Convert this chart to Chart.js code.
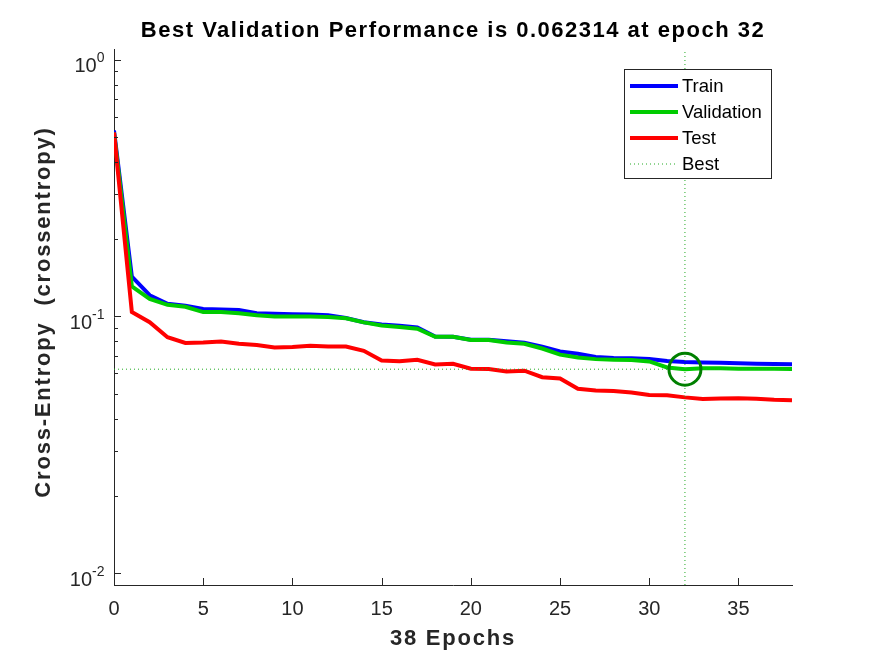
<!DOCTYPE html>
<html>
<head>
<meta charset="utf-8">
<script src="https://cdn.jsdelivr.net/npm/chart.js@4.4.1/dist/chart.umd.min.js"></script>
<style>
  body { margin: 0; background: #fff; }
  canvas { display: block; }
</style>
</head>
<body>
<canvas id="chart" width="875" height="656"></canvas>
<script>
'use strict'

let epochs = [0, 1, 2, 3, 4, 5, 6, 7, 8, 9, 10, 11, 12, 13, 14, 15, 16, 17, 18, 19,
    20, 21, 22, 23, 24, 25, 26, 27, 28, 29, 30, 31, 32, 33, 34, 35, 36, 37, 38];
let trainPerf = [0.53, 0.143, 0.121, 0.112, 0.110, 0.107, 0.1065, 0.106, 0.103, 0.1025,
    0.102, 0.1017, 0.101, 0.0986, 0.095, 0.093, 0.092, 0.0905, 0.0835, 0.0833,
    0.0812, 0.0812, 0.080, 0.079, 0.0762, 0.073, 0.0716, 0.0695, 0.0689, 0.0688,
    0.0683, 0.0670, 0.0664, 0.0662, 0.0660, 0.0657, 0.0655, 0.0653, 0.0652];
let valPerf = [0.52, 0.131, 0.117, 0.111, 0.109, 0.104, 0.104, 0.103, 0.101, 0.100,
    0.100, 0.100, 0.0994, 0.0984, 0.0948, 0.0922, 0.091, 0.0896, 0.0833, 0.0833,
    0.081, 0.081, 0.0792, 0.0783, 0.075, 0.071, 0.0692, 0.0682, 0.0678, 0.0676,
    0.0668, 0.0633, 0.062314, 0.0628, 0.0628, 0.0626, 0.0626, 0.0625, 0.0624];
let testPerf = [0.52, 0.104, 0.095, 0.083, 0.0788, 0.0792, 0.0799, 0.0783, 0.0774, 0.0757,
    0.076, 0.0769, 0.0763, 0.0764, 0.0735, 0.0674, 0.0669, 0.0678, 0.065, 0.0654,
    0.0626, 0.0624, 0.061, 0.0615, 0.058, 0.0573, 0.0523, 0.0515, 0.0513, 0.0506,
    0.0494, 0.0493, 0.0484, 0.0477, 0.0479, 0.048, 0.0478, 0.0474, 0.0472];
let bestEpoch = 32;
let bestPerf = 0.062314;
let xTicks = [0, 5, 10, 15, 20, 25, 30, 35];
let yTicks = [0.01, 0.1, 1];
let yTickExp = ['-2', '-1', '0'];
let xMin = 0;
let xMax = 38;
let yMin = 0.009;
let yMax = 1.1;

let titleText = 'Best Validation Performance is 0.062314 at epoch 32';
let xTitle = '38 Epochs';
let yTitle = 'Cross-Entropy  (crossentropy)';

let font = "'Liberation Sans', Arial, sans-serif";
let axisColor = '#262626';

function toPoints(xs, ys) {
    let pts = [];
    for (let i = 0; i < xs.length; i++) {
        pts.push({ x: xs[i], y: ys[i] });
    }
    return pts;
}

function lineSet(label, values, color, order) {
    return {
        label: label,
        data: toPoints(epochs, values),
        borderColor: color,
        backgroundColor: color,
        borderWidth: 4,
        pointRadius: 0,
        tension: 0,
        order: order
    };
}

// ticks, tick labels, titles and legend drawn on top of the library output
const decorations = {
    id: 'decorations',
    afterDraw(chart) {
        let ctx = chart.ctx;
        let sx = chart.scales.x;
        let sy = chart.scales.y;
        let area = chart.chartArea;
        ctx.save();

        // inward ticks
        ctx.strokeStyle = axisColor;
        ctx.lineWidth = 1;
        ctx.beginPath();
        xTicks.forEach(v => {
            let px = Math.round(sx.getPixelForValue(v)) + 0.5;
            ctx.moveTo(px, area.bottom);
            ctx.lineTo(px, area.bottom - 7);
        });
        for (let d = -3; d <= 0; d++) {
            for (let k = 1; k <= 9; k++) {
                let v = k * Math.pow(10, d);
                if (v <= yMin || v >= yMax) continue;
                let py = Math.round(sy.getPixelForValue(v)) + 0.5;
                ctx.moveTo(area.left, py);
                ctx.lineTo(area.left + (k === 1 ? 7 : 4), py);
            }
        }
        ctx.stroke();

        // y tick labels 10^n
        ctx.fillStyle = axisColor;
        ctx.textAlign = 'right';
        ctx.textBaseline = 'alphabetic';
        yTicks.forEach((v, i) => {
            let py = sy.getPixelForValue(v);
            let right = area.left - 9.5;
            ctx.font = '14px ' + font;
            let ew = ctx.measureText(yTickExp[i]).width;
            ctx.fillText(yTickExp[i], right, py + 2.5);
            ctx.font = '20px ' + font;
            ctx.fillText('10', right - ew, py + 12.5);
        });

        // titles
        ctx.textAlign = 'center';
        ctx.textBaseline = 'middle';
        ctx.letterSpacing = '1.5px';
        ctx.fillStyle = '#000';
        ctx.font = 'bold 22px ' + font;
        ctx.fillText(titleText, (area.left + area.right) / 2, 31);
        ctx.letterSpacing = '1.8px';
        ctx.fillStyle = axisColor;
        ctx.fillText(xTitle, (area.left + area.right) / 2, 639);
        ctx.save();
        ctx.translate(44, (area.top + area.bottom) / 2 - 5);
        ctx.rotate(-Math.PI / 2);
        ctx.fillText(yTitle, 0, 0);
        ctx.restore();
        ctx.letterSpacing = '0px';

        // legend box
        let bx = area.right - 168;
        let by = area.top + 20;
        ctx.fillStyle = '#fff';
        ctx.fillRect(bx, by, 147, 109);
        ctx.strokeStyle = axisColor;
        ctx.lineWidth = 1;
        ctx.strokeRect(bx + 0.5, by + 0.5, 147, 109);
        let rows = chart.data.datasets.filter(ds => ds.inLegend);
        ctx.font = '18.5px ' + font;
        ctx.textAlign = 'left';
        ctx.textBaseline = 'middle';
        rows.forEach((ds, i) => {
            let ry = by + 16.5 + i * 26;
            ctx.strokeStyle = ds.borderColor;
            ctx.lineWidth = ds.borderWidth;
            ctx.setLineDash(ds.borderDash || []);
            ctx.beginPath();
            ctx.moveTo(bx + 6, ry + 0.5);
            ctx.lineTo(bx + 54, ry + 0.5);
            ctx.stroke();
            ctx.setLineDash([]);
            ctx.fillStyle = '#000';
            ctx.fillText(ds.label, bx + 58, ry + 1);
        });
        ctx.restore();
    }
};

let train = lineSet('Train', trainPerf, '#0000ff', 3);
let validation = lineSet('Validation', valPerf, '#00cc00', 2);
let test = lineSet('Test', testPerf, '#ff0000', 1);
train.inLegend = true;
validation.inLegend = true;
test.inLegend = true;

let bestV = {
    label: 'Best',
    data: [{ x: bestEpoch, y: yMin }, { x: bestEpoch, y: yMax }],
    borderColor: '#22aa22',
    borderWidth: 1,
    borderDash: [1, 3],
    pointRadius: 0,
    order: 0,
    inLegend: true
};
let bestH = {
    label: 'BestH',
    data: [{ x: xMin, y: bestPerf }, { x: xMax, y: bestPerf }],
    borderColor: '#22aa22',
    borderWidth: 1,
    borderDash: [1, 3],
    pointRadius: 0,
    order: 0
};
let bestCircle = {
    label: 'BestCircle',
    data: [{ x: bestEpoch, y: bestPerf }],
    showLine: false,
    pointRadius: 16,
    pointBorderWidth: 3,
    pointBorderColor: '#008000',
    pointBackgroundColor: 'rgba(0,0,0,0)',
    order: -1
};

Chart.defaults.font.family = font;

const config = {
    type: 'line',
    data: {
        datasets: [train, validation, test, bestV, bestH, bestCircle]
    },
    options: {
        responsive: false,
        animation: false,
        layout: {
            padding: { top: 49, right: 83, bottom: 0, left: 0 }
        },
        plugins: {
            legend: { display: false },
            title: { display: false },
            tooltip: { enabled: false }
        },
        scales: {
            x: {
                type: 'linear',
                min: xMin,
                max: xMax,
                afterFit: s => { s.height = 71; },
                afterBuildTicks: s => { s.ticks = xTicks.map(v => ({ value: v })); },
                grid: { display: false, drawTicks: false },
                border: { display: true, color: axisColor, width: 1 },
                ticks: {
                    color: axisColor,
                    font: { size: 20 },
                    padding: 12,
                    maxRotation: 0
                }
            },
            y: {
                type: 'logarithmic',
                min: yMin,
                max: yMax,
                afterFit: s => { s.width = 114; },
                grid: { display: false, drawTicks: false },
                border: { display: true, color: axisColor, width: 1 },
                ticks: { display: false }
            }
        }
    },
    plugins: [decorations]
};

let canvas = document.getElementById('chart');
const chart = new Chart(canvas, config);
</script>
</body>
</html>
